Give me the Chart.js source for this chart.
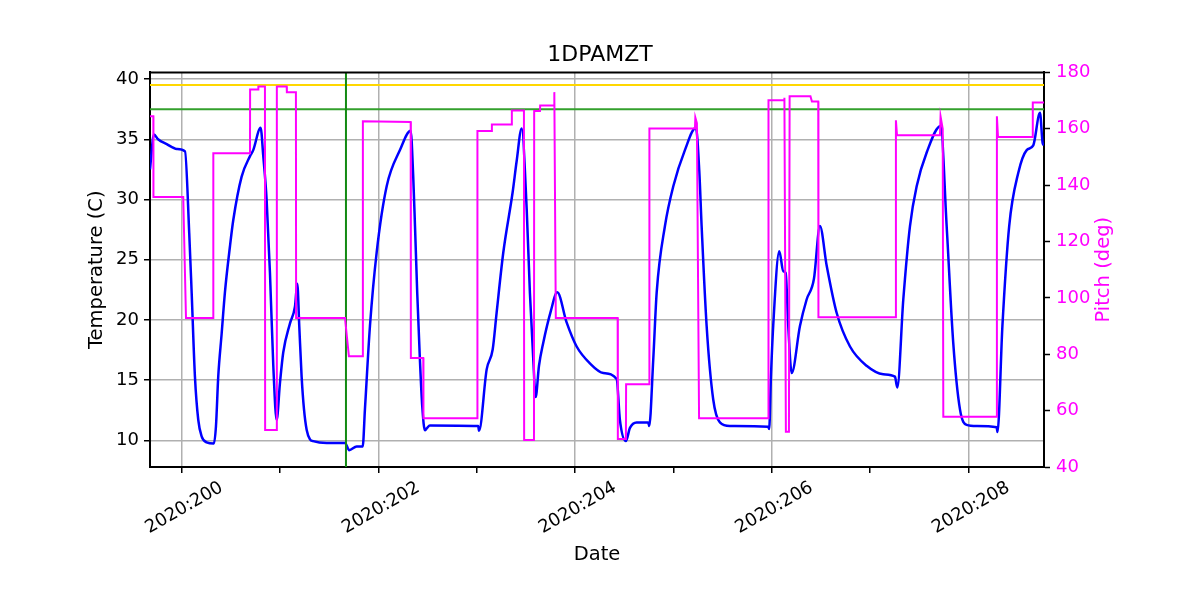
<!DOCTYPE html>
<html>
<head>
<meta charset="utf-8">
<script src="https://cdn.jsdelivr.net/npm/chart.js@4.4.1/dist/chart.umd.min.js"></script>
<style>
  html, body { margin: 0; padding: 0; background: #fff; }
</style>
</head>
<body>
<canvas id="chartTemp" width="1200" height="600"></canvas>
<script>
// temperature 1DPAMZT (day of year 2020)
const tempDays = [
  199.678, 199.718, 199.760, 199.848, 199.950, 200.034, 200.077, 200.102, 200.135, 200.169,
  200.203, 200.254, 200.328, 200.349, 200.372, 200.407, 200.440, 200.491, 200.525, 200.610,
  200.695, 200.728, 200.803, 200.830, 200.864, 200.898, 200.932, 200.966, 201.000, 201.033,
  201.101, 201.152, 201.176, 201.196, 201.220, 201.244, 201.271, 201.305, 201.338, 201.475,
  201.661, 201.704, 201.780, 201.841, 201.864, 201.915, 201.983, 202.085, 202.220, 202.329,
  202.355, 202.373, 202.396, 202.423, 202.447, 202.474, 202.492, 202.525, 203.016, 203.024,
  203.102, 203.163, 203.203, 203.271, 203.366, 203.407, 203.458, 203.509, 203.542, 203.576,
  203.600, 203.634, 203.677, 203.753, 203.820, 203.915, 204.017, 204.152, 204.288, 204.424,
  204.457, 204.518, 204.559, 204.627, 204.745, 204.755, 204.796, 204.831, 204.915, 205.000,
  205.118, 205.230, 205.264, 205.288, 205.339, 205.406, 205.474, 205.576, 205.966, 205.975,
  205.993, 206.016, 206.078, 206.118, 206.143, 206.169, 206.204, 206.288, 206.356, 206.430,
  206.491, 206.560, 206.661, 206.797, 206.966, 207.135, 207.254, 207.278, 207.339, 207.407,
  207.475, 207.577, 207.719, 207.780, 207.847, 207.915, 207.983, 208.085, 208.288, 208.297,
  208.347, 208.416, 208.508, 208.594, 208.661, 208.729, 208.756, 208.770
];
const tempValues = [
  32.5, 35.4, 35.0, 34.6, 34.2, 34.0, 27.2, 22.2, 15.3, 11.7,
  10.35, 9.85, 9.75, 11.2, 15.3, 18.9, 22.3, 26.1, 28.3, 31.9,
  33.6, 34.1, 35.95, 33.6, 30.0, 23.9, 16.2, 11.7, 14.8, 17.3,
  19.7, 21.1, 23.0, 19.5, 15.3, 12.6, 10.9, 10.1, 9.95, 9.8,
  9.8, 9.2, 9.5, 9.5, 12.6, 19.5, 25.6, 31.1, 34.1, 35.7,
  31.9, 27.8, 22.2, 16.7, 12.8, 10.85, 11.0, 11.25, 11.2, 10.8,
  15.9, 17.55, 20.6, 25.6, 30.6, 33.2, 35.9, 29.2, 22.2, 16.7,
  13.6, 16.2, 18.1, 20.7, 22.3, 19.8, 17.8, 16.4, 15.6, 15.1,
  11.7, 9.95, 11.05, 11.5, 11.5, 11.2, 16.7, 22.3, 27.8, 31.1,
  34.1, 35.95, 32.4, 27.8, 19.5, 13.4, 11.5, 11.2, 11.15, 10.95,
  15.3, 19.5, 25.7, 24.05, 23.9, 19.5, 15.6, 19.5, 21.7, 23.4,
  27.8, 24.5, 20.6, 17.8, 16.2, 15.5, 15.3, 14.4, 21.7, 27.8,
  31.1, 33.9, 36.1, 27.8, 18.1, 12.6, 11.3, 11.2, 11.1, 10.7,
  19.5, 27.8, 32.2, 34.1, 34.5, 37.2, 34.7, 34.5
];

// pitch (deg)
const pitchDays = [
  199.678, 199.712, 199.713, 200.016, 200.044, 200.321, 200.322, 200.695, 200.696, 200.779,
  200.780, 200.847, 200.849, 200.966, 200.968, 201.068, 201.070, 201.162, 201.164, 201.661,
  201.701, 201.841, 201.843, 202.329, 202.331, 202.457, 202.459, 203.006, 203.008, 203.153,
  203.155, 203.356, 203.358, 203.481, 203.483, 203.583, 203.585, 203.644, 203.646, 203.787,
  203.790, 203.805, 204.434, 204.436, 204.518, 204.520, 204.755, 204.757, 205.220, 205.224,
  205.240, 205.262, 205.966, 205.968, 206.126, 206.130, 206.145, 206.176, 206.183, 206.395,
  206.410, 206.474, 206.476, 207.261, 207.264, 207.275, 207.712, 207.718, 207.740, 207.746,
  208.288, 208.291, 208.302, 208.654, 208.656, 208.770
];
const pitchValues = [
  164.4, 164.4, 135.8, 135.8, 92.9, 92.9, 151.3, 151.3, 173.9, 173.9,
  175.0, 175.0, 53.1, 53.1, 175.0, 175.0, 173.0, 173.0, 92.9, 92.9,
  79.3, 79.3, 162.7, 162.4, 78.7, 78.7, 57.3, 57.3, 159.2, 159.2,
  161.5, 161.5, 166.5, 166.5, 49.6, 49.6, 166.3, 166.3, 168.3, 168.3,
  173.0, 92.9, 92.9, 49.9, 49.9, 69.4, 69.4, 160.1, 160.1, 164.0,
  162.0, 57.3, 57.3, 170.1, 170.1, 171.0, 52.5, 52.5, 171.5, 171.5,
  169.7, 169.7, 93.1, 93.1, 163.0, 157.7, 157.7, 164.4, 160.0, 57.8,
  57.8, 164.4, 157.1, 157.1, 169.3, 169.3
];

const xTicks = [200, 202, 204, 206, 208];
const xTickLabels = ['2020:200', '2020:202', '2020:204', '2020:206', '2020:208'];
const planningLimit = 39.5;
const yellowLimit = 37.5;
const markerDay = 201.671;

const xMin = 199.678, xMax = 208.770;
const tMin = 7.8, tMax = 40.55;

const pts = (xs, ys) => xs.map((x, i) => ({ x: x, y: ys[i] }));

Chart.defaults.font.family = 'DejaVu Sans';
Chart.defaults.color = '#000';

const frame = {
  id: 'frame',
  afterDraw(chart) {
    const { ctx, chartArea } = chart;
    ctx.save();
    ctx.strokeStyle = '#000';
    ctx.lineWidth = 2;
    ctx.beginPath();
    ctx.moveTo(chartArea.left - 1, chartArea.top);
    ctx.lineTo(chartArea.right + 1, chartArea.top);
    ctx.stroke();
    // right axis label, reads bottom to top like matplotlib
    ctx.translate(1104, (chartArea.top + chartArea.bottom) / 2);
    ctx.rotate(-Math.PI / 2);
    ctx.fillStyle = '#ff00ff';
    ctx.font = '19.5px "DejaVu Sans"';
    ctx.textAlign = 'center';
    ctx.textBaseline = 'middle';
    ctx.fillText('Pitch (deg)', 0, 0);
    ctx.restore();
  }
};

new Chart(document.getElementById('chartTemp'), {
  type: 'line',
  data: {
    datasets: [
      {
        label: 'Pitch',
        data: pts(pitchDays, pitchValues),
        yAxisID: 'y1',
        borderColor: '#ff00ff',
        borderWidth: 2,
        pointRadius: 0,
        tension: 0,
        order: 0
      },
      {
        label: 'marker',
        data: [{ x: markerDay, y: tMin }, { x: markerDay, y: tMax }],
        yAxisID: 'y',
        borderColor: '#138a13',
        borderWidth: 2,
        pointRadius: 0,
        order: 1
      },
      {
        label: 'yellow',
        data: [{ x: xMin, y: yellowLimit }, { x: xMax, y: yellowLimit }],
        yAxisID: 'y',
        borderColor: '#33a02c',
        borderWidth: 2,
        pointRadius: 0,
        order: 2
      },
      {
        label: 'planning',
        data: [{ x: xMin, y: planningLimit }, { x: xMax, y: planningLimit }],
        yAxisID: 'y',
        borderColor: '#ffd700',
        borderWidth: 2,
        pointRadius: 0,
        order: 3
      },
      {
        label: '1DPAMZT',
        data: pts(tempDays, tempValues),
        yAxisID: 'y',
        borderColor: '#0000ff',
        borderWidth: 2.5,
        pointRadius: 0,
        cubicInterpolationMode: 'monotone',
        order: 4
      }
    ]
  },
  options: {
    responsive: false,
    animation: false,
    layout: { padding: 0 },
    plugins: {
      legend: { display: false },
      tooltip: { enabled: false },
      title: {
        display: true,
        text: '1DPAMZT',
        color: '#000',
        font: { size: 22, weight: 'normal' },
        padding: { top: 42, bottom: 4 }
      }
    },
    scales: {
      x: {
        type: 'linear',
        position: 'bottom',
        min: xMin,
        max: xMax,
        afterFit: s => { s.height = 133; },
        ticks: {
          stepSize: 1,
          includeBounds: false,
          autoSkip: false,
          minRotation: 30,
          maxRotation: 30,
          labelOffset: 40,
          padding: 4,
          color: '#000',
          font: { size: 18 },
          callback: v => {
            const i = xTicks.indexOf(Math.round(v * 1000) / 1000);
            return i >= 0 ? xTickLabels[i] : '';
          }
        },
        grid: {
          color: c => (c.tick && xTicks.includes(c.tick.value)) ? '#b0b0b0' : 'rgba(0,0,0,0)',
          lineWidth: 1.5,
          tickColor: '#000',
          tickLength: 6,
          tickWidth: 1.5
        },
        border: { color: '#000', width: 2 },
        title: {
          display: true,
          text: 'Date',
          color: '#000',
          font: { size: 19.5 },
          padding: { top: 0, bottom: 33 }
        }
      },
      y: {
        position: 'left',
        min: tMin,
        max: tMax,
        afterFit: s => { s.width = 150; },
        ticks: {
          stepSize: 5,
          includeBounds: false,
          color: '#000',
          padding: 5,
          font: { size: 18 }
        },
        grid: {
          color: '#b0b0b0',
          lineWidth: 1.5,
          tickColor: '#000',
          tickLength: 6,
          tickWidth: 1.5
        },
        border: { color: '#000', width: 2 },
        title: {
          display: true,
          text: 'Temperature (C)',
          color: '#000',
          font: { size: 19.5 },
          padding: { top: 85, bottom: 0 }
        }
      },
      y1: {
        position: 'right',
        min: 40,
        max: 180,
        afterFit: s => { s.width = 156; },
        ticks: {
          stepSize: 20,
          includeBounds: false,
          color: '#ff00ff',
          padding: 6,
          font: { size: 18 }
        },
        grid: {
          drawOnChartArea: false,
          tickColor: '#000',
          tickLength: 6,
          tickWidth: 1.5
        },
        border: { color: '#000', width: 2 }
      }
    }
  },
  plugins: [frame]
});
</script>
</body>
</html>
